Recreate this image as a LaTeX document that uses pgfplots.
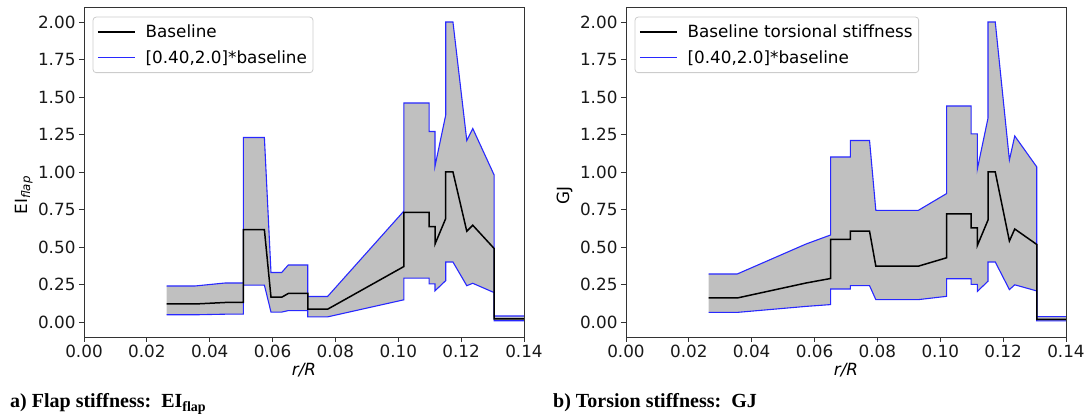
\documentclass[border=0pt]{standalone}
\usepackage{pgfplots}
\usepackage{pgfplotstable}
\pgfplotsset{compat=1.18}
\usepgfplotslibrary{fillbetween}
\usepackage{fontspec}
\setmainfont{DejaVu Sans}
\newfontfamily\capfont{Liberation Serif}
\definecolor{silverfill}{RGB}{192,192,192}
\definecolor{bandblue}{RGB}{40,40,255}

\pgfplotstableread{
x b up lo
0.0263 0.120 0.240 0.048
0.0353 0.120 0.240 0.048
0.0449 0.130 0.260 0.052
0.0507 0.130 0.260 0.052
0.0507 0.615 1.230 0.246
0.0574 0.615 1.230 0.246
0.0595 0.165 0.330 0.066
0.0629 0.165 0.330 0.066
0.0650 0.190 0.380 0.076
0.0712 0.190 0.380 0.076
0.0712 0.085 0.170 0.034
0.0775 0.085 0.170 0.034
0.1018 0.370 0.740 0.148
0.1018 0.730 1.460 0.292
0.1098 0.730 1.460 0.292
0.1098 0.635 1.270 0.254
0.1117 0.635 1.270 0.254
0.1117 0.520 1.040 0.208
0.1151 0.690 1.380 0.276
0.1151 1.000 2.000 0.400
0.1174 1.000 2.000 0.400
0.1218 0.605 1.210 0.242
0.1237 0.645 1.290 0.258
0.1305 0.490 0.980 0.196
0.1305 0.020 0.040 0.008
0.1400 0.020 0.040 0.008
}\flapdata

\pgfplotstableread{
x b up lo
0.0263 0.160 0.320 0.064
0.0354 0.160 0.320 0.064
0.0573 0.260 0.520 0.104
0.0651 0.290 0.580 0.116
0.0651 0.550 1.100 0.220
0.0714 0.550 1.100 0.220
0.0714 0.605 1.210 0.242
0.0775 0.605 1.210 0.242
0.0795 0.372 0.744 0.149
0.0930 0.372 0.744 0.149
0.1020 0.428 0.856 0.171
0.1020 0.720 1.440 0.288
0.1098 0.720 1.440 0.288
0.1098 0.627 1.254 0.251
0.1118 0.627 1.254 0.251
0.1118 0.510 1.020 0.204
0.1152 0.680 1.360 0.272
0.1152 1.000 2.000 0.400
0.1175 1.000 2.000 0.400
0.1220 0.540 1.080 0.216
0.1237 0.620 1.240 0.248
0.1307 0.517 1.034 0.207
0.1307 0.018 0.036 0.007
0.1400 0.018 0.036 0.007
}\torsdata

\pgfplotsset{
  stiffaxis/.style={
    scale only axis, width=440pt, height=330pt,
    xmin=0, xmax=0.14, ymin=-0.1, ymax=2.1,
    xtick={0,0.02,0.04,0.06,0.08,0.10,0.12,0.14},
    ytick={0,0.25,0.5,0.75,1,1.25,1.5,1.75,2},
    scaled x ticks=false, scaled y ticks=false,
    xtick pos=bottom, ytick pos=left, tick align=outside,
    major tick length=5pt,
    every tick/.style={black!80, line width=0.9pt},
    axis line style={black!80, line width=0.9pt},
    tick label style={font=\fontsize{16.8}{20}\selectfont, black!90},
    xticklabel style={/pgf/number format/.cd, fixed, fixed zerofill, precision=2, assume math mode=true},
    yticklabel style={/pgf/number format/.cd, fixed, fixed zerofill, precision=2, assume math mode=true},
    label style={font=\fontsize{16.8}{20}\selectfont},
    xlabel={\itshape r/R},
    xlabel style={at={(axis description cs:0.5,0)}, anchor=base, yshift=-39pt},
    legend style={at={(axis description cs:0,1)}, anchor=north west, xshift=8.7pt, yshift=-9.7pt,
      draw=black!20, line width=0.8pt, rounded corners=3pt, fill=white,
      font=\fontsize{16.8}{20}\selectfont, inner xsep=4pt, inner ysep=6pt, row sep=7pt,
      column sep=8pt},
    legend cell align=left,
    legend image code/.code={\draw[#1] (0pt,0pt) -- (37pt,0pt);},
  }
}

\begin{document}
\begin{tikzpicture}[x=1pt,y=1pt]

\begin{axis}[stiffaxis, at={(84pt,79pt)}, anchor=south west,
  ylabel={EI\textsubscript{\itshape flap}},
  ylabel style={at={(axis description cs:-0.1295,0.43)}, anchor=base, rotate=0}]
\addlegendimage{black, line width=1.5pt}
\addlegendentry{Baseline}
\addlegendimage{bandblue, line width=1pt}
\addlegendentry{[0.40,2.0]*baseline}
\addplot[draw=none, name path=UA, forget plot] table[x=x, y=up] {\flapdata};
\addplot[draw=none, name path=LA, forget plot] table[x=x, y=lo] {\flapdata};
\addplot[silverfill, forget plot] fill between[of=UA and LA];
\addplot[bandblue, line width=1.1pt, forget plot] table[x=x, y=up] {\flapdata};
\addplot[bandblue, line width=1.1pt, forget plot] table[x=x, y=lo] {\flapdata};
\addplot[black, line width=1.5pt, forget plot] table[x=x, y=b] {\flapdata};
\end{axis}

\begin{axis}[stiffaxis, at={(626pt,79pt)}, anchor=south west,
  ylabel={GJ},
  ylabel style={at={(axis description cs:-0.1295,0.43)}, anchor=base, rotate=0}]
\addlegendimage{black, line width=1.5pt}
\addlegendentry{Baseline torsional stiffness}
\addlegendimage{bandblue, line width=1pt}
\addlegendentry{[0.40,2.0]*baseline}
\addplot[draw=none, name path=UB, forget plot] table[x=x, y=up] {\torsdata};
\addplot[draw=none, name path=LB, forget plot] table[x=x, y=lo] {\torsdata};
\addplot[silverfill, forget plot] fill between[of=UB and LB];
\addplot[bandblue, line width=1.1pt, forget plot] table[x=x, y=up] {\torsdata};
\addplot[bandblue, line width=1.1pt, forget plot] table[x=x, y=lo] {\torsdata};
\addplot[black, line width=1.5pt, forget plot] table[x=x, y=b] {\torsdata};
\end{axis}

\node[anchor=base west, inner sep=0pt, font=\capfont\bfseries\fontsize{20}{23}\selectfont] at (10,8) {a) Flap stiffness:\ \ EI\textsubscript{flap}};
\node[anchor=base west, inner sep=0pt, font=\capfont\bfseries\fontsize{20}{23}\selectfont] at (553,8) {b) Torsion stiffness:\ \ GJ};
\path (0,0) rectangle (1088,416);
\end{tikzpicture}
\end{document}
